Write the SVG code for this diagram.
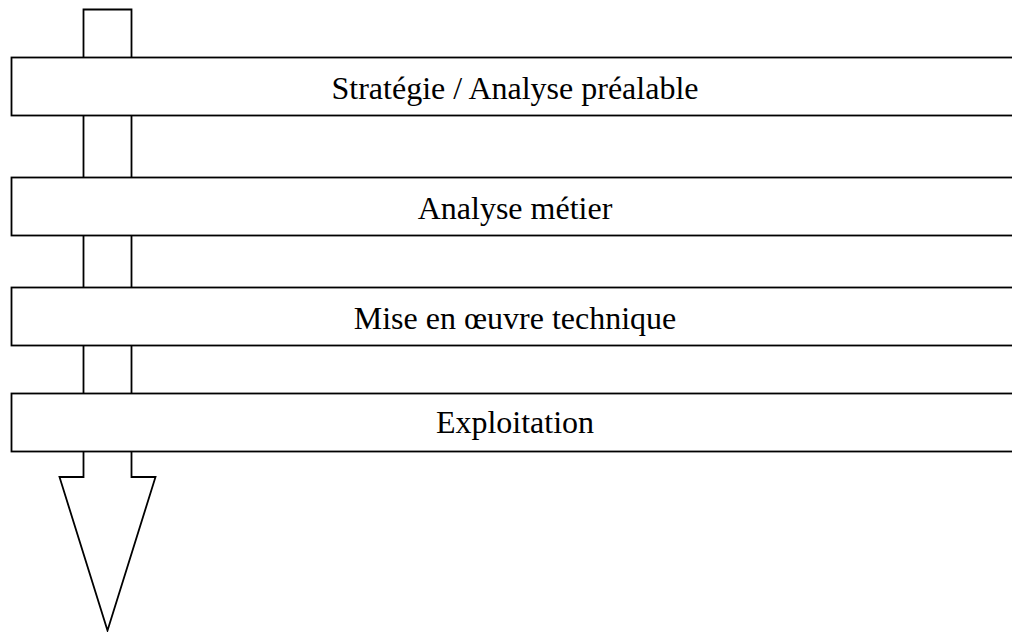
<svg xmlns="http://www.w3.org/2000/svg" width="1012" height="632" viewBox="0 0 1012 632">
  <style>
    .shape { fill: #ffffff; stroke: #000000; stroke-width: 1.8; }
    .label { font-family: "Liberation Serif", "Times New Roman", serif; font-size: 32px; fill: #000000; text-anchor: middle; }
  </style>
  <rect width="1012" height="632" fill="#ffffff"/>
  <g id="connectors">
    <!-- timeline shaft with its arrowhead -->
    <path class="shape" d="M83.5,9.5 H131.5 V477 H155.5 L107.5,630.5 L59.5,477 H83.5 Z"/>
  </g>
  <g id="phase-strategie">
    <rect class="shape" x="11.5" y="57.5" width="1020" height="58"/>
    <text class="label" x="515" y="99">Stratégie / Analyse préalable</text>
  </g>
  <g id="phase-analyse-metier">
    <rect class="shape" x="11.5" y="177.5" width="1020" height="58"/>
    <text class="label" x="515" y="219">Analyse métier</text>
  </g>
  <g id="phase-mise-en-oeuvre">
    <rect class="shape" x="11.5" y="287.5" width="1020" height="58"/>
    <text class="label" x="515" y="329">Mise en œuvre technique</text>
  </g>
  <g id="phase-exploitation">
    <rect class="shape" x="11.5" y="393.5" width="1020" height="58"/>
    <text class="label" x="515" y="433">Exploitation</text>
  </g>
</svg>
